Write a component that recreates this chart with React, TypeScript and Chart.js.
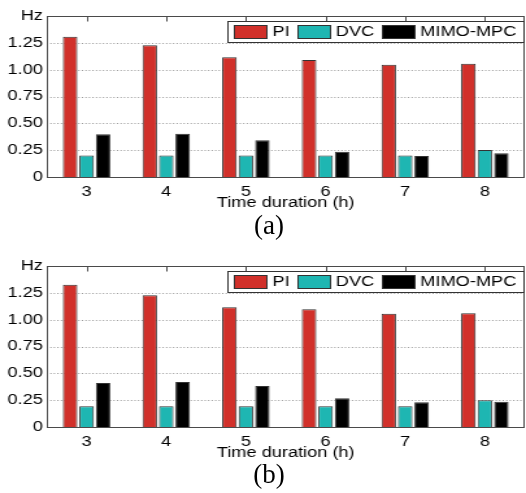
import React, { useEffect, useRef } from 'react';
import { Chart, registerables } from 'chart.js';
Chart.register(...registerables);

const categories = ['3', '4', '5', '6', '7', '8'];
const seriesNames = ['PI', 'DVC', 'MIMO-MPC'];
const seriesColors = ['#D1302A', '#1EB6B2', '#000000'];
const piA = [1.306, 1.228, 1.116, 1.091, 1.045, 1.054];
const dvcA = [0.2, 0.2, 0.2, 0.2, 0.2, 0.252];
const mpcA = [0.398, 0.404, 0.342, 0.236, 0.196, 0.221];
const piB = [1.325, 1.228, 1.116, 1.098, 1.054, 1.06];
const dvcB = [0.193, 0.193, 0.193, 0.193, 0.193, 0.249];
const mpcB = [0.41, 0.42, 0.382, 0.267, 0.23, 0.236];
const yTicks = [0, 0.25, 0.5, 0.75, 1, 1.25, 1.5];
const yUnit = 'Hz';
const xTitle = 'Time duration (h)';
const captions = ['(a)', '(b)'];

const FONT = '"Liberation Sans", Arial, sans-serif';
const OUT_W = 526;
const IN_W = 405;
const SX = OUT_W / IN_W;
const H = 212;

const framePlugin = {
  id: 'matlabFrame',
  beforeDatasetsDraw(chart: any) {
    const { ctx, chartArea: a, scales } = chart;
    const y = scales.y;
    ctx.save();
    ctx.strokeStyle = '#9a9a9a';
    ctx.lineWidth = 1;
    ctx.setLineDash([1, 1.7]);
    yTicks.forEach((v) => {
      if (v <= yTicks[0] || v >= yTicks[yTicks.length - 1]) return;
      const py = Math.round(y.getPixelForValue(v)) + 0.5;
      ctx.beginPath();
      ctx.moveTo(a.left, py);
      ctx.lineTo(a.right, py);
      ctx.stroke();
    });
    ctx.restore();
  },
  afterDatasetsDraw(chart: any) {
    const { ctx, chartArea: a, scales } = chart;
    const x = scales.x;
    const L = Math.round(a.left) + 0.5;
    const R = Math.round(a.right) - 0.5;
    const T = Math.round(a.top) + 0.5;
    const B = Math.round(a.bottom) + 0.5;
    ctx.save();
    ctx.strokeStyle = '#4a4a4a';
    ctx.lineWidth = 1;
    ctx.strokeRect(L, T, R - L, B - T);
    ctx.beginPath();
    categories.forEach((_, i) => {
      const px = Math.round(x.getPixelForValue(i)) + 0.5;
      ctx.moveTo(px, T);
      ctx.lineTo(px, T + 5);
    });
    ctx.stroke();
    ctx.restore();
  },
  afterDraw(chart: any) {
    const { ctx, chartArea: a } = chart;
    const ds = chart.data.datasets;
    ctx.save();
    ctx.font = `14px ${FONT}`;
    const pad = 5;
    const sw = 26;
    const sh = 14;
    const gapT = 4;
    const gapI = 5.5;
    let total = pad * 2;
    ds.forEach((d: any, i: number) => {
      total += sw + gapT + ctx.measureText(d.label).width;
      if (i < ds.length - 1) total += gapI;
    });
    const right = a.right - 1.5;
    const left = right - total;
    const top = Math.round(a.top) + 5;
    const h = 21;
    ctx.fillStyle = '#ffffff';
    ctx.fillRect(left, top, total, h);
    ctx.strokeStyle = '#333333';
    ctx.lineWidth = 1;
    ctx.strokeRect(Math.round(left) + 0.5, top + 0.5, Math.round(total), h);
    let cx = left + pad;
    const cy = top + h / 2 + 0.5;
    ds.forEach((d: any) => {
      ctx.fillStyle = d.backgroundColor;
      ctx.fillRect(Math.round(cx), Math.round(cy - sh / 2), sw, sh);
      ctx.strokeStyle = '#333333';
      ctx.strokeRect(Math.round(cx) + 0.5, Math.round(cy - sh / 2) + 0.5, sw - 1, sh - 1);
      cx += sw + gapT;
      ctx.fillStyle = '#000000';
      ctx.textBaseline = 'middle';
      ctx.textAlign = 'left';
      ctx.fillText(d.label, cx, cy);
      cx += ctx.measureText(d.label).width + gapI;
    });
    ctx.restore();
  },
};

function BarPanel({ series }: { series: number[][] }) {
  const ref = useRef<HTMLCanvasElement>(null);
  useEffect(() => {
    if (!ref.current) return;
    const chart = new Chart(ref.current, {
      type: 'bar',
      data: {
        labels: categories,
        datasets: series.map((vals, i) => ({
          label: seriesNames[i],
          data: vals,
          backgroundColor: seriesColors[i],
          borderColor: '#333333',
          borderWidth: 1,
          categoryPercentage: 0.62,
          barPercentage: 0.88,
        })),
      },
      options: {
        responsive: false,
        animation: false,
        devicePixelRatio: 1,
        layout: { padding: { left: 0, right: 1, top: 16, bottom: 0 } },
        plugins: { legend: { display: false }, tooltip: { enabled: false } },
        scales: {
          x: {
            grid: { display: false, drawTicks: false },
            border: { display: false },
            ticks: { color: '#000', font: { family: FONT, size: 14 }, padding: 7 },
            title: { display: true, text: xTitle, color: '#000', font: { family: FONT, size: 14 }, padding: 0 },
            afterFit: (s: any) => { s.height = 35; },
          },
          y: {
            min: yTicks[0],
            max: yTicks[yTicks.length - 1],
            afterBuildTicks: (s: any) => { s.ticks = yTicks.map((v) => ({ value: v })); },
            grid: { display: false, drawTicks: false },
            border: { display: false },
            ticks: {
              color: '#000',
              font: { family: FONT, size: 14 },
              padding: 3,
              callback: (v: any) => {
                const n = Number(v);
                if (n === yTicks[yTicks.length - 1]) return yUnit;
                if (n === 0) return '0';
                return n.toFixed(2);
              },
            },
            afterFit: (s: any) => { s.width = 36; },
          },
        },
      },
      plugins: [framePlugin],
    });
    return () => chart.destroy();
  }, [series]);
  return (
    <div style={{ width: IN_W, height: H, transform: `scaleX(${SX})`, transformOrigin: '0 0' }}>
      <canvas ref={ref} width={IN_W} height={H} style={{ display: 'block', width: IN_W, height: H }} />
    </div>
  );
}

const seriesA = [piA, dvcA, mpcA];
const seriesB = [piB, dvcB, mpcB];

export default function App() {
  const capStyle: React.CSSProperties = {
    position: 'absolute',
    left: 0,
    width: 538,
    textAlign: 'center',
    fontFamily: '"Liberation Serif", "Times New Roman", serif',
    fontSize: 27,
    lineHeight: '32px',
    color: '#000',
  };
  return (
    <div style={{ position: 'absolute', left: 0, top: 0, width: OUT_W, height: 493, background: '#fff', overflow: 'hidden' }}>
      <div style={{ position: 'absolute', left: 0, top: 0 }}>
        <BarPanel series={seriesA} />
      </div>
      <div style={{ ...capStyle, top: 209 }}>{captions[0]}</div>
      <div style={{ position: 'absolute', left: 0, top: 250 }}>
        <BarPanel series={seriesB} />
      </div>
      <div style={{ ...capStyle, top: 458 }}>{captions[1]}</div>
    </div>
  );
}
